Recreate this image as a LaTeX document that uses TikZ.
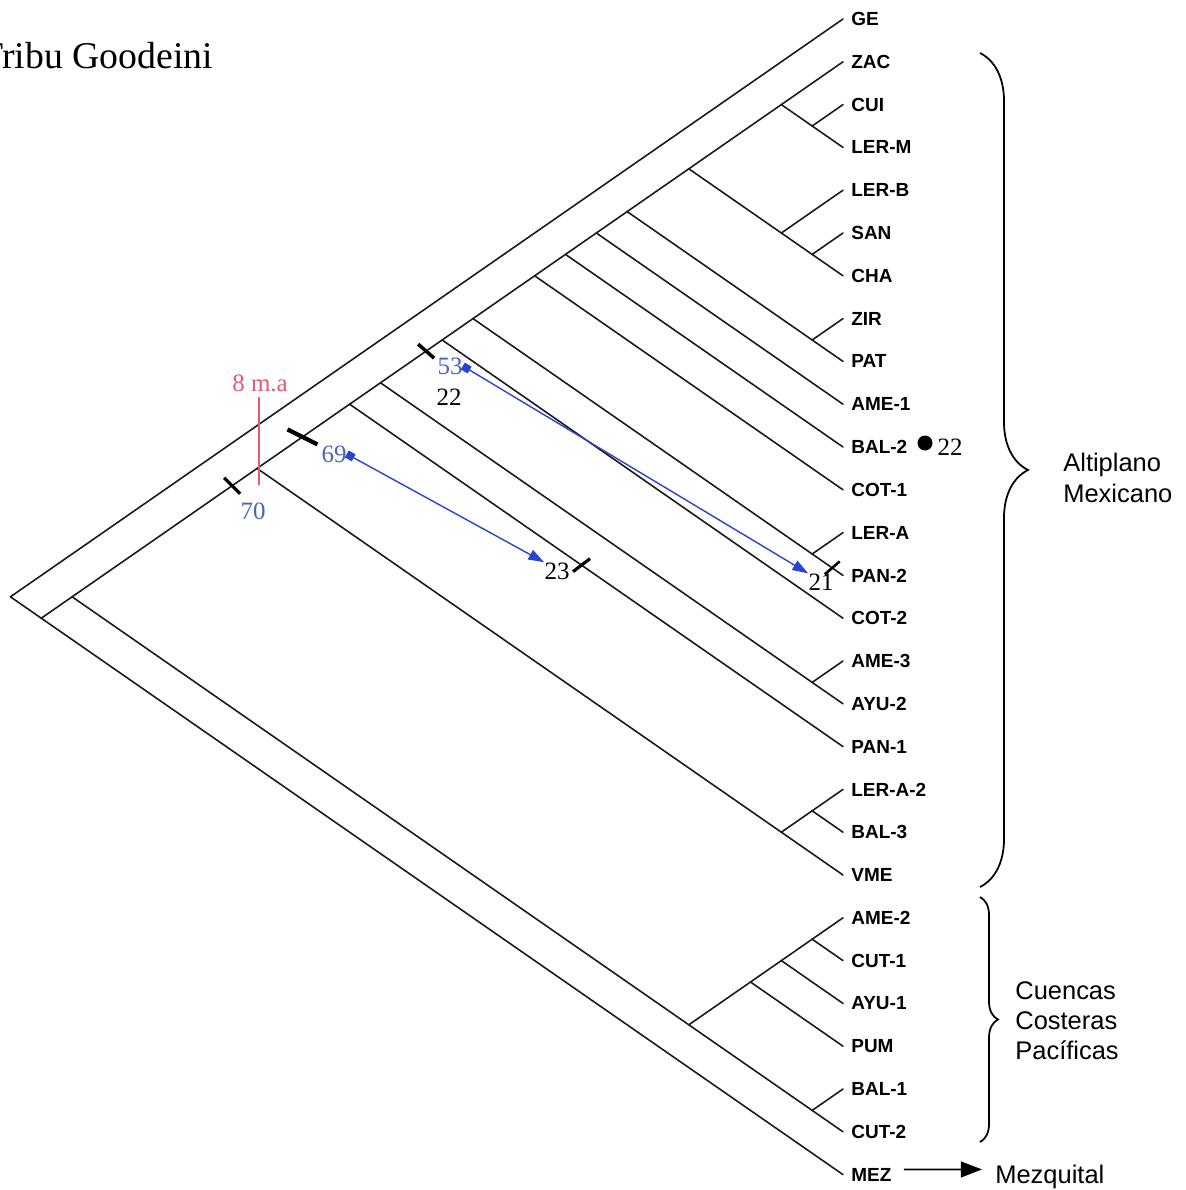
\documentclass[tikz,border=0pt]{standalone}
\usepackage{fontspec}
\setmainfont{Liberation Serif}
\newfontfamily\arial{Liberation Sans}
\usetikzlibrary{calc,arrows.meta,decorations.pathreplacing}

\definecolor{migblue}{RGB}{40,70,205}
\definecolor{numblue}{RGB}{70,100,185}
\definecolor{agered}{RGB}{228,90,110}

\begin{document}
\begin{tikzpicture}[x=0.02cm, y=-0.02cm,
		branch/.style={line width=0.9pt, line cap=round, black!90},
		leaf/.style={anchor=west, inner sep=0pt, font=\arial\bfseries\fontsize{10.8}{12}\selectfont},
		hatch/.style={line width=1.8pt, black},
		num/.style={inner sep=0pt, font=\fontsize{14.2}{16}\selectfont},
		mig/.style={migblue, line width=0.8pt, {Square[length=4.5pt,width=4.5pt]}-{Triangle[length=9pt,width=6pt]}},
		region/.style={anchor=west, align=left, inner sep=0pt, font=\arial\fontsize{14.5}{18}\selectfont},
		regionbrace/.style={line width=1pt, decorate}]

			\useasboundingbox (0,0) rectangle (1186,1190);

			\draw (-20,68) node (title) [anchor=base west, inner sep=0pt, font=\fontsize{21.5}{24}\selectfont] {Tribu Goodeini};

			\foreach \lab [count=\i from 0] in {GE,ZAC,CUI,LER-M,LER-B,SAN,CHA,ZIR,PAT,AME-1,BAL-2,COT-1,LER-A,PAN-2,COT-2,AME-3,AYU-2,PAN-1,LER-A-2,BAL-3,VME,AME-2,CUT-1,AYU-1,PUM,BAL-1,CUT-2,MEZ}{
				\coordinate (t\i) at (843,{19+42.8*\i});
				\node[leaf] (l\i) at (851,{19+42.8*\i}) {\lab};
			}

			\foreach \n/\a/\b in {root/0/27, x1/1/27, x2/1/26, alt/1/20, a1/1/17, a2/1/16, a3/1/14, a4/1/13, a5/1/11, a6/1/10, a7/1/9, a8/1/8, a9/1/6, a10/1/3,
					cuiler/2/3, lerb/4/6, sancha/5/6, zirpat/7/8, lerapan/12/13, ameayu/15/16, vme/18/20, lerbal/18/19,
					cue/21/26, c1/21/24, c2/21/23, c3/21/22, balcut/25/26}
				\coordinate (\n) at ({843-(\b-\a)*42.8/1.388},{19+(\a+\b)/2*42.8});

			\foreach \p/\c in {root/t0, root/x1, x1/x2, x1/t27, x2/alt, x2/cue, alt/a1, alt/vme,
					a1/a2, a1/t17, a2/a3, a2/ameayu, a3/a4, a3/t14, a4/a5, a4/lerapan, a5/a6, a5/t11,
					a6/a7, a6/t10, a7/a8, a7/t9, a8/a9, a8/zirpat, a9/a10, a9/lerb, a10/t1, a10/cuiler,
					cuiler/t2, cuiler/t3, lerb/t4, lerb/sancha, sancha/t5, sancha/t6, zirpat/t7, zirpat/t8,
					lerapan/t12, lerapan/t13, ameayu/t15, ameayu/t16, vme/lerbal, vme/t20, lerbal/t18, lerbal/t19,
					cue/c1, cue/balcut, c1/c2, c1/t24, c2/c3, c2/t23, c3/t21, c3/t22, balcut/t25, balcut/t26}
				\draw[branch] (\p) -- (\c);


			\coordinate (k70) at ($(x2)!0.865!(alt)$);
			\coordinate (k69) at ($(alt)!0.49!(a1)$);
			\coordinate (k53) at ($(a2)!0.74!(a3)$);
			\coordinate (k23) at ($(a1)!0.47!(t17)$);
			\coordinate (k21) at ($(lerapan)!0.65!(t13)$);
			\draw[hatch] ($(k70)+(-8,-8)$) -- ($(k70)+(8,8)$);
			\draw[hatch, line width=2.4pt] ($(k69)+(-15,-7.5)$) -- ($(k69)+(15,7.5)$);
			\draw[hatch, line width=2pt] ($(k53)+(-8,-7)$) -- ($(k53)+(8,7)$);
			\draw[hatch] ($(k23)+(-8.5,6.5)$) -- ($(k23)+(8.5,-6.5)$);
			\draw[hatch, line width=1.5pt] ($(k21)+(-7.5,6.5)$) -- ($(k21)+(7.5,-6.5)$);


			\draw (253,511) node (n70) [num, numblue] {70};
			\draw (334,454) node (n69) [num, numblue] {69};
			\draw (450,366) node (n53) [num, numblue] {53};
			\draw (449,397) node (n22) [num] {22};
			\draw (557,571) node (n23) [num] {23};
			\draw (821,582) node (n21) [num] {21};
			\draw (950,447) node (bal22) [num] {22};
			\draw (925,443) node (dot) [fill = black, circle, inner sep = 0pt, minimum size = 0.3cm] {};

			\draw[mig] (n69.east) -- (n23.north west);
			\draw[mig] (n53.east) -- (n21.north west);


			\draw (260,383) node (ma) [num, agered] {8 m.a};
			\coordinate (ma-foot) at (259,485);
			\draw[agered, line width=1pt, shorten <=3pt] (ma.south -| ma-foot) -- (ma-foot);


			\coordinate (alt-top) at (980,53);
			\coordinate (alt-bot) at (980,887);
			\coordinate (cue-top) at (980,897);
			\coordinate (cue-bot) at (980,1142);
			\draw[regionbrace, decoration={brace, amplitude=0.96cm}] (alt-top) -- (alt-bot);
			\draw[regionbrace, decoration={brace, amplitude=0.36cm}] (cue-top) -- (cue-bot);

			\draw (1063,478) node (altip) [region] {Altiplano\\Mexicano};
			\draw (1015,1021) node (cuenc) [region, font=\arial\fontsize{14.5}{17}\selectfont] {Cuencas\\Costeras\\Pacíficas};
			\draw (995,1183) node (mezq) [region, anchor=base west] {Mezquital};

			\draw[line width=1pt, -{Triangle[length=12pt,width=9pt]}] ($(l27.east)+(12,-5)$) -- ($(mezq.west)+(-13,-7)$);

		\end{tikzpicture}
\end{document}
